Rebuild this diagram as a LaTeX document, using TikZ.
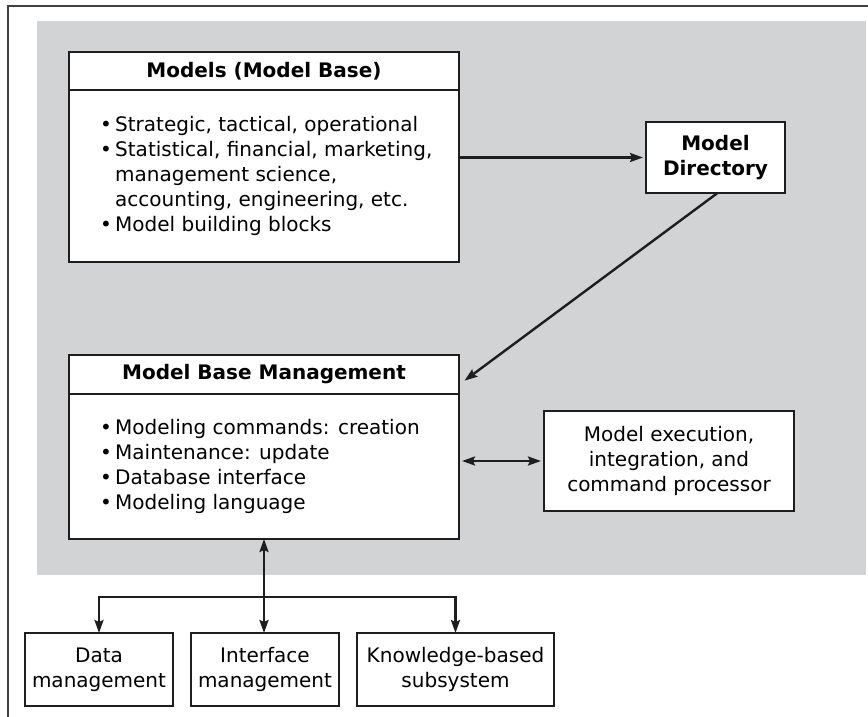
\documentclass[tikz,border=0pt]{standalone}
\usepackage{fontspec}
\setmainfont{DejaVu Sans}
\usetikzlibrary{positioning,arrows.meta}
\definecolor{panelgray}{RGB}{209,211,213}
\definecolor{inkline}{RGB}{30,30,30}
\newcommand{\boxfont}{\fontsize{20}{25}\selectfont}
\newcommand{\headfont}{\fontsize{20}{25}\selectfont\bfseries}
\newcommand{\bul}{\makebox[15pt][l]{\textbullet}}
\newcommand{\cont}{\hspace*{15pt}}

\begin{document}
\begin{tikzpicture}[x=1pt,y=-1pt,
   box/.style={draw=inkline, line width=1.3pt, fill=white, inner sep=2pt, outer sep=0pt, align=center, font=\boxfont},
   head/.style={box, font=\headfont, minimum width=390pt},
   body/.style={box, minimum width=390pt},
   lower/.style={box, minimum height=73pt},
   list/.style={inner sep=0pt, align=left, font=\boxfont},
   arr/.style={draw=inkline, line width=2.4pt, -{Stealth[length=13pt,width=9pt,inset=2pt]}},
   biarr/.style={draw=inkline, line width=2.4pt, {Stealth[length=13pt,width=9pt,inset=2pt]}-{Stealth[length=13pt,width=9pt,inset=2pt]}}]
   \useasboundingbox (0,0) rectangle (868,717);
   \fill[panelgray] (37,21) rectangle (866,575);
   \draw[line width=1.5pt, draw=black!75] (8,717) -- (8,6) -- (868,6);

   % model base
   \node[head, minimum height=38pt] (mbhead) at (264,71) {Models (Model Base)};
   \node[body, minimum height=172pt, below=0pt of mbhead] (mbbody) {};
   \node[list, right=31pt of mbbody.west] (mblist) {\bul Strategic, tactical, operational\\
      \bul Statistical, financial, marketing,\\
      \cont management science,\\
      \cont accounting, engineering, etc.\\
      \bul Model building blocks};

   % directory
   \node[box, font=\headfont, minimum width=139pt, minimum height=71pt] (mdir) at (715.5,157.5) {Model\\Directory};

   % model base management
   \node[head, minimum height=39pt] (mmhead) at (264,374.5) {Model Base Management};
   \node[body, minimum height=145pt, below=0pt of mmhead] (mmbody) {};
   \node[list, right=31pt of mmbody.west] (mmlist) {\bul Modeling commands: creation\\
      \bul Maintenance: update\\
      \bul Database interface\\
      \bul Modeling language};

   \node[box, minimum width=250pt, minimum height=100pt] (exec) at (669,461) {Model execution,\\integration, and\\command processor};

   % subsystems
   \node[lower, minimum width=148pt] (data) at (99,669.5) {Data\\management};
   \node[lower, minimum width=148pt, right=18pt of data] (iface) {Interface\\management};
   \node[lower, minimum width=197pt, right=18pt of iface] (know) {Knowledge-based\\subsystem};

   \coordinate (bus) at (264,597);

   \draw[arr, shorten >=3pt] (mdir.west -| mbbody.east) -- (mdir.west);
   \draw[arr, shorten >=3pt] ([xshift=2pt]mdir.south) -- ([xshift=3pt,yshift=-8pt]mmhead.east);
   \draw[biarr, shorten <=3pt, shorten >=3pt] (exec.west -| mmbody.east) -- (exec.west);
   \draw[biarr] (mmbody.south) -- (mmbody.south |- iface.north);
   \draw[arr] (bus) -| (data.north);
   \draw[arr] (bus) -| (know.north);
\end{tikzpicture}
\end{document}
